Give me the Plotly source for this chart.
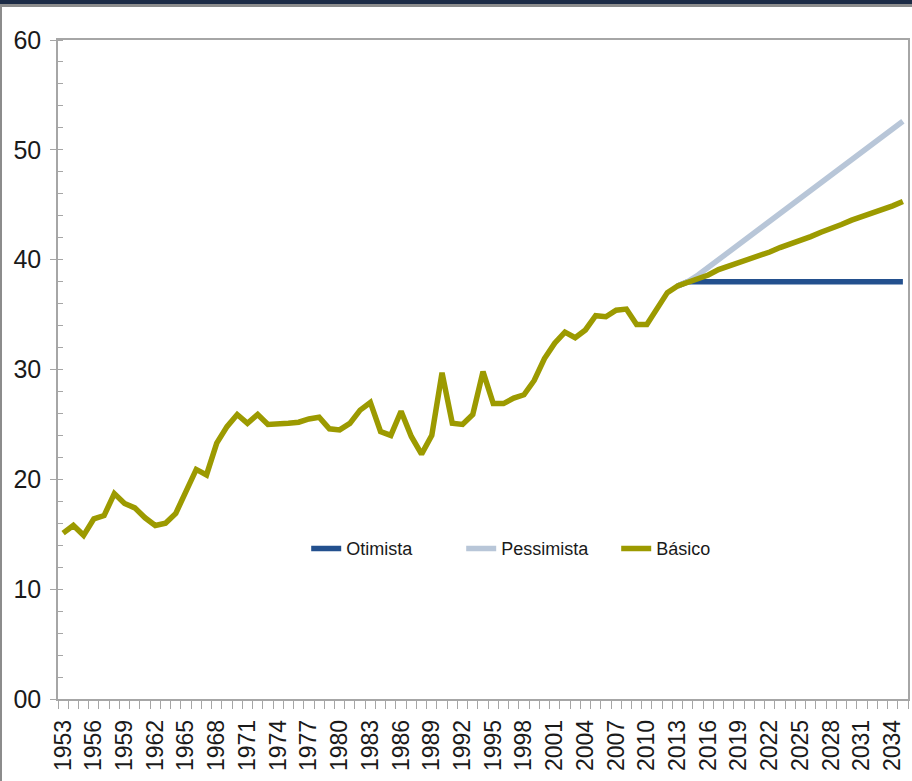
import plotly.graph_objects as go

years = list(range(1953, 2036))

basico = [15.1, 15.8, 14.9, 16.4, 16.7, 18.7, 17.8, 17.4, 16.5, 15.8,
          16.0, 16.9, 18.9, 20.9, 20.4, 23.3, 24.8, 25.9, 25.1, 25.9,
          25.0, 25.0, 25.1, 25.2, 25.5, 25.65, 24.6, 24.5, 25.1, 26.3,
          27.0, 24.35, 24.0, 26.2, 23.9, 22.3, 24.0, 29.7, 25.1, 25.0,
          25.9, 29.8, 26.9, 26.9, 27.4, 27.7, 29.0, 31.0, 32.4, 33.4,
          32.9, 33.6, 34.9, 34.8, 35.4, 35.5, 34.1, 34.1, 35.6, 37.0,
          37.6,
          37.9, 38.3, 38.6, 39.1, 39.4, 39.7, 40.0, 40.3, 40.7, 41.1,
          41.4, 41.7, 42.1, 42.5, 42.8, 43.2, 43.6, 43.9, 44.2, 44.5,
          44.9, 45.3]

scen_years = list(range(2013, 2036))
otimista = [37.6, 38.0, 38.0, 38.0, 38.0, 38.0, 38.0, 38.0, 38.0, 38.0,
            38.0, 38.0, 38.0, 38.0, 38.0, 38.0, 38.0, 38.0, 38.0, 38.0,
            38.0, 38.0, 38.0]
pessimista = [37.6, 38.0, 38.6, 39.3, 40.0, 40.7, 41.4, 42.1, 42.8, 43.5,
              44.2, 44.9, 45.6, 46.3, 47.0, 47.7, 48.4, 49.1, 49.8, 50.5,
              51.2, 51.9, 52.6]

x_tick_years = years[::3]
x_tick_labels = [str(y) for y in x_tick_years]
y_tick_vals = [0, 10, 20, 30, 40, 50, 60]
y_tick_text = ["00", "10", "20", "30", "40", "50", "60"]

FONT = "Liberation Sans, Arial, sans-serif"
AXIS_GRAY = "#a6a6a6"

fig = go.Figure()
fig.add_trace(go.Scatter(x=scen_years, y=otimista, mode="lines", name="Otimista",
                         line=dict(color="#23508e", width=5.5)))
fig.add_trace(go.Scatter(x=scen_years, y=pessimista, mode="lines", name="Pessimista",
                         line=dict(color="#b8c6d8", width=5.5)))
fig.add_trace(go.Scatter(x=years, y=basico, mode="lines", name="Básico",
                         line=dict(color="#9c9a00", width=5.5)))

fig.update_layout(
    width=912, height=781,
    margin=dict(l=58, r=4, t=40, b=82),
    paper_bgcolor="white", plot_bgcolor="white",
    showlegend=True,
    legend=dict(orientation="h", x=0.292, y=0.228, xanchor="left", yanchor="middle",
                font=dict(family=FONT, size=18, color="#1a1a1a"),
                bgcolor="rgba(0,0,0,0)", entrywidth=110, entrywidthmode="pixels",
                tracegroupgap=0),
    xaxis=dict(
        range=[1952.5, 2035.5],
        automargin=False,
        tickmode="array", tickvals=x_tick_years, ticktext=x_tick_labels,
        tickangle=-90,
        ticks="outside", ticklen=10, tickcolor="rgba(0,0,0,0)",
        tickfont=dict(family=FONT, size=23, color="#1a1a1a"),
        showgrid=False, zeroline=False,
        showline=True, linecolor=AXIS_GRAY, linewidth=1.5, mirror=True,
        minor=dict(ticks="outside", tick0=1952.5, dtick=1, ticklen=8,
                   tickcolor=AXIS_GRAY, tickwidth=1, showgrid=False),
    ),
    yaxis=dict(
        range=[0, 60],
        automargin=False,
        tickmode="array", tickvals=y_tick_vals, ticktext=y_tick_text,
        ticks="outside", ticklen=6, tickcolor=AXIS_GRAY, tickwidth=1,
        ticklabelstandoff=4,
        tickfont=dict(family=FONT, size=25, color="#1a1a1a"),
        showgrid=False, zeroline=False,
        showline=True, linecolor=AXIS_GRAY, linewidth=1.5, mirror=True,
        minor=dict(ticks="inside", tick0=0, dtick=2, ticklen=5,
                   tickcolor=AXIS_GRAY, tickwidth=1, showgrid=False),
    ),
    shapes=[
        dict(type="rect", xref="paper", yref="paper", x0=-0.08, x1=1.01,
             y0=(699 - 7) / 659, y1=(699 - 4) / 659, fillcolor="#8c8c8c", line_width=0, layer="above"),
        dict(type="rect", xref="paper", yref="paper", x0=-0.08, x1=1.01,
             y0=(699 - 4) / 659, y1=(699 + 1) / 659 + 0.01, fillcolor="#1b2a45", line_width=0, layer="above"),
        dict(type="rect", xref="paper", yref="paper", x0=-0.08, x1=(2 - 58) / 850,
             y0=-0.2, y1=(699 - 7) / 659, fillcolor="#8c8c8c", line_width=0, layer="above"),
    ],
)

fig.write_html("out.html", config={"displayModeBar": False},
               post_script="document.body.style.margin='0';")
